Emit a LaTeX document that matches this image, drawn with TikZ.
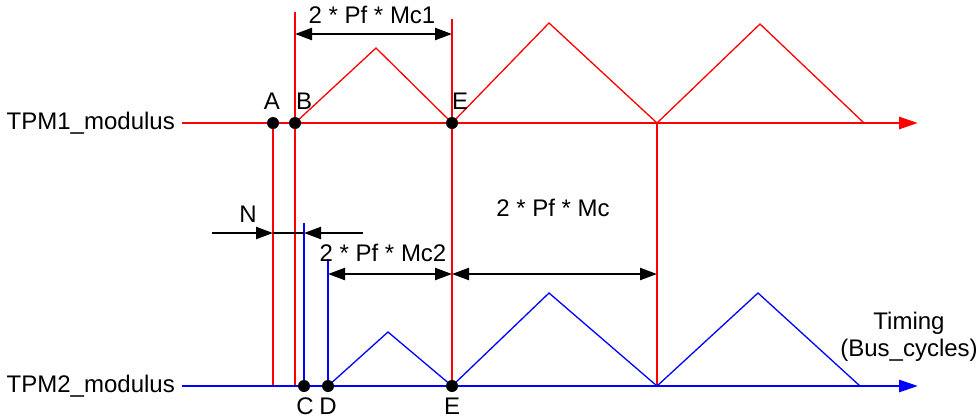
\documentclass[tikz,border=0pt]{standalone}
\usepackage{fontspec}
\setmainfont{Liberation Sans}
\usetikzlibrary{arrows.meta}
\begin{document}
\begin{tikzpicture}[x=1pt,y=-1pt,
  lbl/.style={font=\fontsize{24}{27}\selectfont, inner sep=0pt},
  axisred/.style={red, line width=2.8pt, -{Triangle[length=19pt,width=12pt]}},
  axisblue/.style={blue, line width=2.8pt, -{Triangle[length=19pt,width=12pt]}},
  wavered/.style={red, line width=1.3pt, line join=miter},
  waveblue/.style={blue, line width=1.3pt, line join=miter},
  vred/.style={red, line width=1.3pt},
  vblue/.style={blue, line width=1.3pt},
  dim/.style={black, line width=2.2pt, {Triangle[length=17pt,width=12pt]}-{Triangle[length=17pt,width=12pt]}},
  dimr/.style={black, line width=2.2pt, -{Triangle[length=17pt,width=12pt]}},
  dot/.style={circle, fill=black, minimum size=12pt, inner sep=0pt}
]
\useasboundingbox (0,0) rectangle (979,418);
% coordinates
\coordinate (r0) at (182,123);
\coordinate (r1) at (918,123);
\coordinate (b0) at (182,386);
\coordinate (b1) at (918,386);
\coordinate (A) at (273,123);
\coordinate (B) at (295,123);
\coordinate (E1) at (452,123);
\coordinate (V1) at (657,123);
\coordinate (C) at (304,386);
\coordinate (D) at (328,386);
\coordinate (E2) at (452,386);
\coordinate (V2) at (657,386);
% labels
\node[lbl, anchor=east] (tpm1) at (175,123) {TPM1\_modulus};
\node[lbl, anchor=east] (tpm2) at (175,386) {TPM2\_modulus};
% vertical red lines
\draw[vred] (A) -- (A |- b0);
\draw[vred] (295,12) -- (B |- b0);
\draw[vred] (452,19) -- (E2);
\draw[vred] (V1) -- (V2);
% vertical blue lines
\draw[vblue] (304,223) -- (C);
\draw[vblue] (328,259) -- (D);
% waves
\draw[wavered] (B) -- (376,48) -- (E1) -- (549,23) -- (V1) -- (760,24) -- (864,123);
\draw[waveblue] (D) -- (388,332) -- (E2) -- (549,293) -- (V2) -- (758,293) -- (860,386);
% axes
\draw[axisred] (r0) -- (r1);
\draw[axisblue] (b0) -- (b1);
% dots
\node[dot] (dA) at (A) {};
\node[dot] (dB) at (B) {};
\node[dot] (dE1) at (E1) {};
\node[dot] (dC) at (C) {};
\node[dot] (dD) at (D) {};
\node[dot] (dE2) at (E2) {};
\node[lbl] (lA) at (272,101) {A};
\node[lbl] (lB) at (304,101) {B};
\node[lbl] (lE1) at (460,101) {E};
\node[lbl] (lC) at (305,406) {C};
\node[lbl] (lD) at (328,406) {D};
\node[lbl] (lE2) at (452,406) {E};
% dimensions
\coordinate (m1a) at (295,34);
\coordinate (m1b) at (452,34);
\draw[dim] (m1a) -- (m1b);
\node[lbl] (tm1) at (372,15) {2 * Pf * Mc1};
\coordinate (n0) at (212,233);
\coordinate (n1) at (273,233);
\coordinate (n2) at (304,233);
\coordinate (n3) at (363,233);
\draw[dimr] (n0) -- (n1);
\draw[black, line width=2.2pt] (n1) -- (n2);
\draw[dimr] (n3) -- (n2);
\node[lbl] (tN) at (248,214) {N};
\coordinate (m2a) at (328,274);
\coordinate (m2b) at (452,274);
\coordinate (m3b) at (657,274);
\draw[dim] (m2a) -- (m2b);
\draw[dim] (m2b) -- (m3b);
\node[lbl] (tm2) at (383,253) {2 * Pf * Mc2};
\node[lbl] (tm) at (553,208) {2 * Pf * Mc};
\node[lbl, align=center, font=\fontsize{24}{27}\selectfont] (tt) at (909,337) {Timing\\(Bus\_cycles)};
\end{tikzpicture}
\end{document}
